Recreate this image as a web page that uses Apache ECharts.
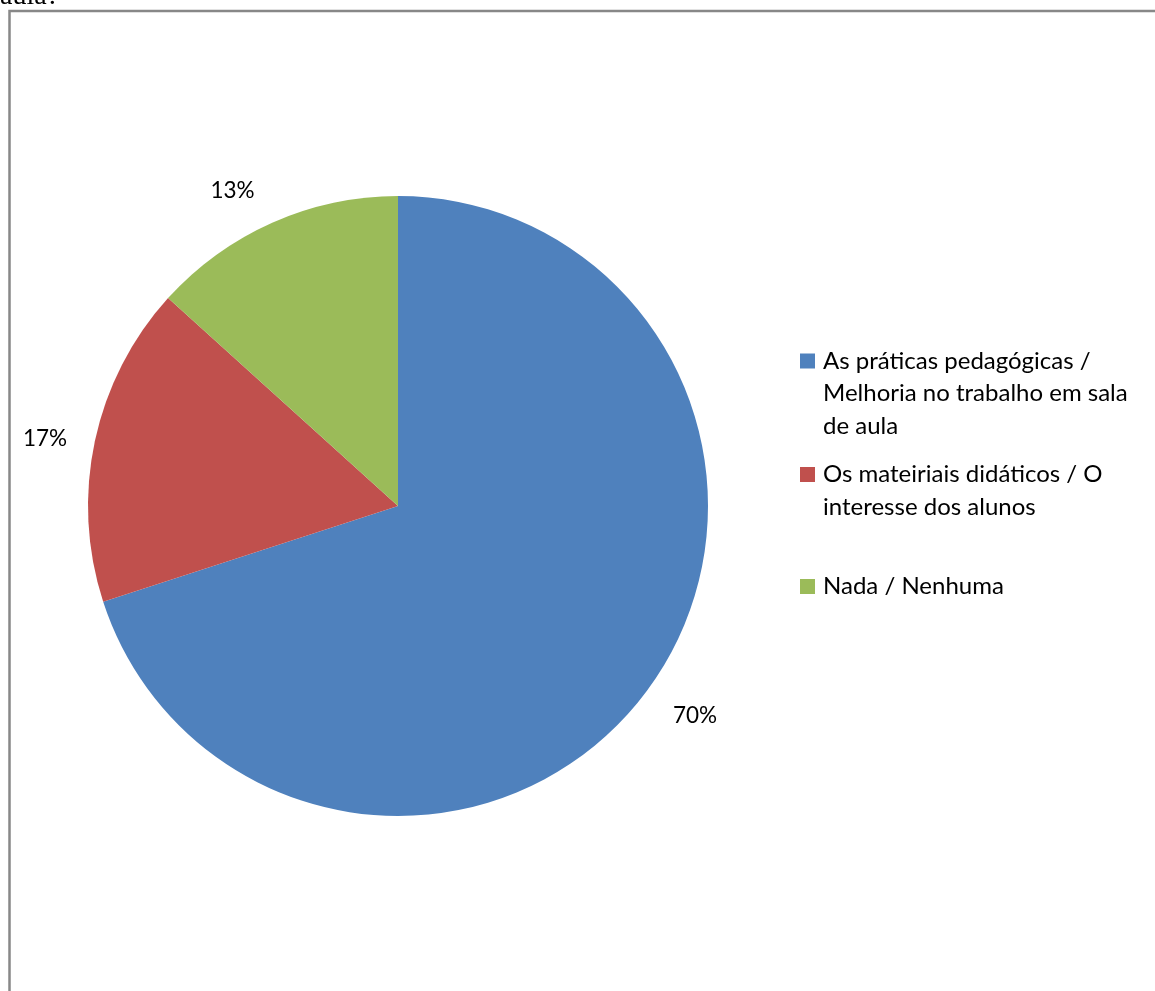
<!DOCTYPE html>
<html>
<head>
<meta charset="utf-8">
<script src="https://cdn.jsdelivr.net/npm/echarts@6/dist/echarts.min.js"></script>
<style>
html,body{margin:0;padding:0;background:#fff;}
#chart{width:1155px;height:991px;}
</style>
</head>
<body>
<div id="chart"></div>
<script>
const categories = [
  'As práticas pedagógicas / Melhoria no trabalho em sala de aula',
  'Os mateiriais didáticos / O interesse dos alunos',
  'Nada / Nenhuma'
];
const legendLines = [
  ['As práticas pedagógicas /', 'Melhoria no trabalho em sala', 'de aula'],
  ['Os mateiriais didáticos / O', 'interesse dos alunos'],
  ['Nada / Nenhuma']
];
const values = [70, 16.7, 13.3];
const colors = ['#4F81BD', '#C0504D', '#9BBB59'];
const headerText = 'aula?';

const FONT = 'Lato';
const LEG_FS = 24;
const LAB_FS = 22.5;
const LH = 32.5;
const legendIconY = [361, 474.5, 586.5];
const labelOffsets = [[5, -2], [0, 8], [-19, 15]];

const chart = echarts.init(document.getElementById('chart'));
const data = categories.map((c, i) => ({ name: c, value: values[i], itemStyle: { color: colors[i] } }));

const legends = categories.map((c, i) => {
  const n = legendLines[i].length;
  return {
    orient: 'vertical',
    left: 800,
    top: legendIconY[i] - (2 * n - 1) * LH / 2,
    padding: 0,
    itemGap: 0,
    itemWidth: 15,
    itemHeight: 15,
    icon: 'rect',
    selectedMode: false,
    data: [c],
    formatter: (name) => {
      const lines = legendLines[categories.indexOf(name)];
      return new Array(lines.length - 1).fill('').concat(lines).join('\n');
    },
    textStyle: { fontFamily: FONT, fontSize: LEG_FS, color: '#000', lineHeight: LH, padding: [0, 0, 0, 3] }
  };
});

chart.setOption({
  animation: false,
  backgroundColor: '#fff',
  legend: legends,
  graphic: [
    { type: 'rect', z: 0, shape: { x: 9.5, y: 11, width: 1300, height: 1200 },
      style: { fill: 'none', stroke: '#888', lineWidth: 2.5 } },
    { type: 'text', z: 0, x: 0, y: -17, style: { text: headerText, font: '28px "Liberation Serif"', fill: '#000' } }
  ],
  series: [
    {
      type: 'pie',
      center: [398, 506],
      radius: [0, 310],
      startAngle: 90,
      clockwise: true,
      silent: true,
      label: { show: false },
      labelLine: { show: false },
      itemStyle: { borderWidth: 0 },
      data: data
    },
    {
      type: 'pie',
      center: [398, 506],
      radius: [0, 716],
      startAngle: 90,
      clockwise: true,
      silent: true,
      legendHoverLink: false,
      z: 1,
      itemStyle: { color: 'rgba(0,0,0,0)', borderWidth: 0 },
      label: {
        show: true,
        position: 'inside',
        formatter: (p) => Math.round(p.value) + '%',
        fontFamily: FONT, fontSize: LAB_FS, color: '#000'
      },
      labelLine: { show: false },
      data: categories.map((c, i) => ({
        name: c, value: values[i],
        itemStyle: { color: 'rgba(0,0,0,0)' },
        label: { offset: labelOffsets[i] }
      }))
    }
  ]
});
</script>
</body>
</html>
